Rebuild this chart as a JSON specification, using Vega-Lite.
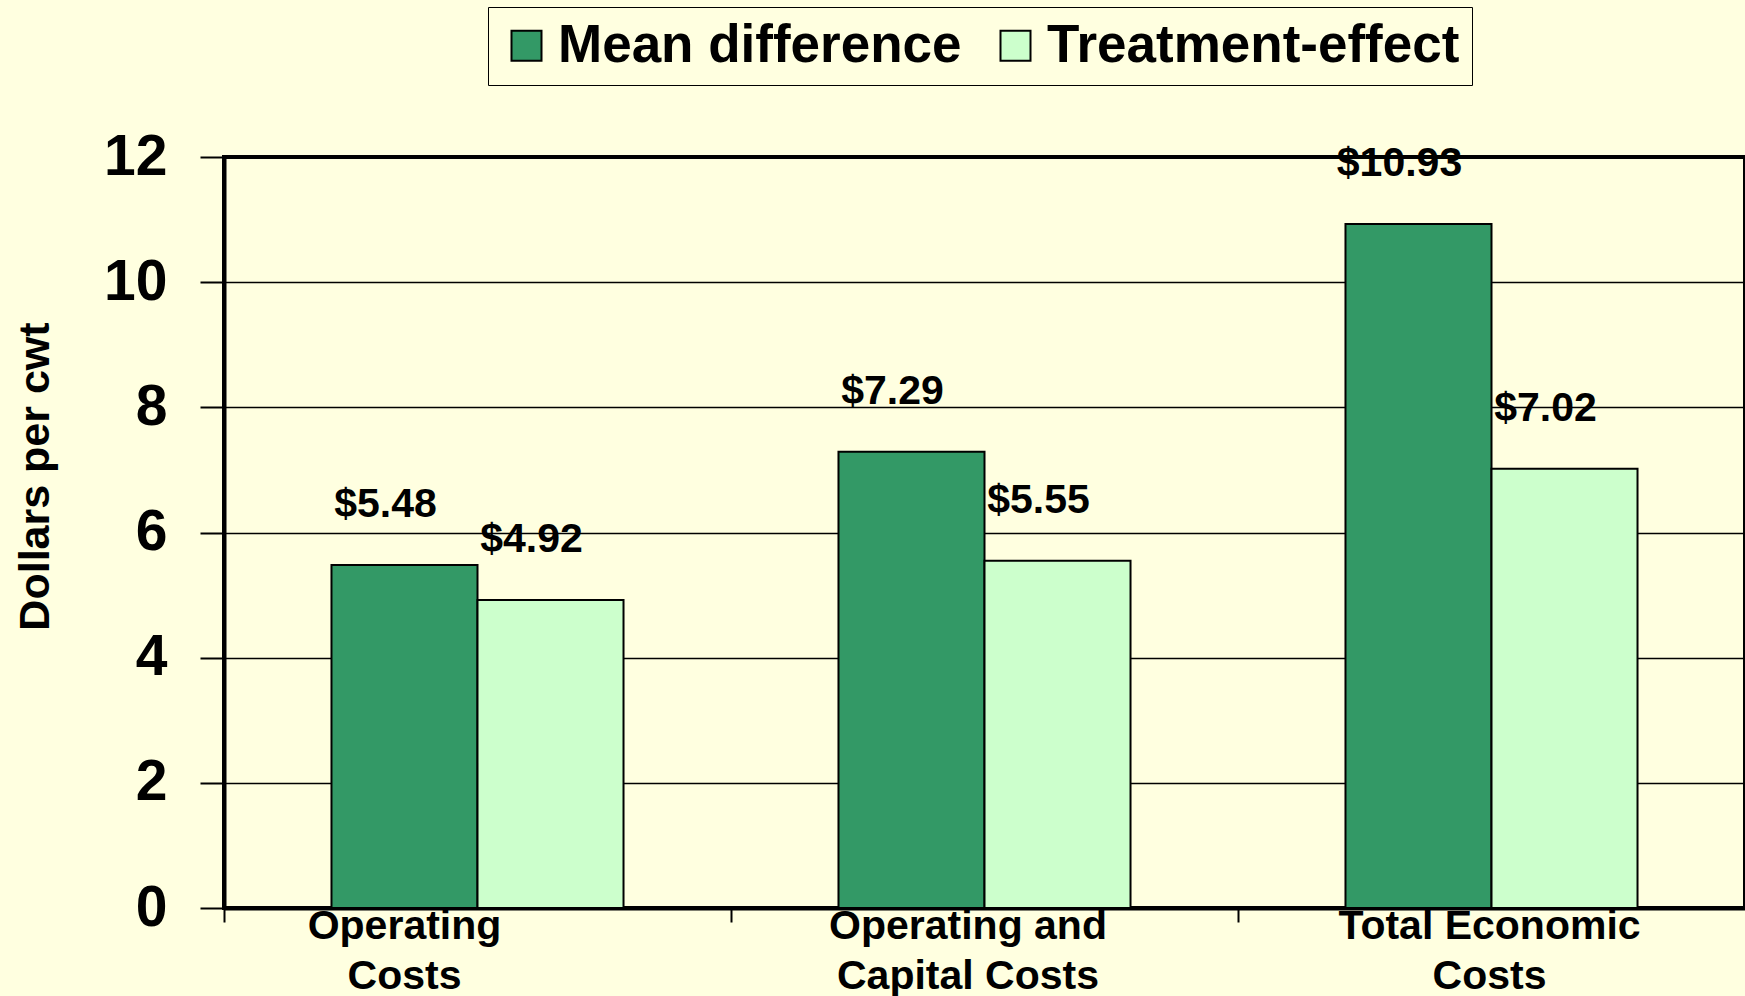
{
  "$schema": "https://vega.github.io/schema/vega-lite/v6.json",
  "width": 1521,
  "height": 751,
  "autosize": {"type": "none"},
  "padding": {"left": 224, "top": 157, "right": 0, "bottom": 88},
  "background": "#FFFFE0",
  "config": {
    "view": {"stroke": "black", "strokeWidth": 4, "fill": "#FFFFE0"},
    "font": "Liberation Sans",
    "axis": {"labelFont": "Liberation Sans", "titleFont": "Liberation Sans", "labelFontWeight": "bold", "titleFontWeight": "bold", "labelColor": "black", "titleColor": "black"}
  },
  "data": {
    "values": [
      {"category": "Operating Costs", "series": "Mean difference", "value": 5.48},
      {"category": "Operating Costs", "series": "Treatment-effect", "value": 4.92},
      {"category": "Operating and Capital Costs", "series": "Mean difference", "value": 7.29},
      {"category": "Operating and Capital Costs", "series": "Treatment-effect", "value": 5.55},
      {"category": "Total Economic Costs", "series": "Mean difference", "value": 10.93},
      {"category": "Total Economic Costs", "series": "Treatment-effect", "value": 7.02}
    ]
  },
  "encoding": {
    "x": {
      "field": "category",
      "type": "nominal",
      "sort": ["Operating Costs", "Operating and Capital Costs", "Total Economic Costs"],
      "scale": {"paddingInner": 0.424, "paddingOuter": 0.212},
      "axis": {
        "title": null,
        "labelAngle": 0,
        "labelFontSize": 41,
        "labelLineHeight": 50,
        "labelBaseline": "top",
        "labelPadding": -16,
        "labelLimit": 600,
        "labelExpr": "datum.value === 'Operating Costs' ? ['Operating', 'Costs'] : datum.value === 'Operating and Capital Costs' ? ['Operating and', 'Capital Costs'] : ['Total Economic', 'Costs']",
        "tickOffset": -253.5,
        "labelOffset": {"condition": [{"test": "datum.value === 'Operating Costs'", "value": 180}, {"test": "datum.value === 'Operating and Capital Costs'", "value": 236.5}], "value": 251},
        "tickSize": 14,
        "tickWidth": 2,
        "tickColor": "black",
        "domainColor": "black",
        "domainWidth": 4,
        "grid": false
      }
    },
    "xOffset": {"field": "series", "type": "nominal", "sort": ["Mean difference", "Treatment-effect"]},
    "y": {
      "field": "value",
      "type": "quantitative",
      "scale": {"domain": [0, 12], "nice": false},
      "axis": {
        "values": [0, 2, 4, 6, 8, 10, 12],
        "title": "Dollars per cwt",
        "titleFontSize": 43,
        "titleAngle": -90,
        "titleAlign": "center",
        "titleBaseline": "alphabetic",
        "titleX": -176,
        "titleY": 319,
        "labelFontSize": 57,
        "labelPadding": 33,
        "labelBaseline": "middle",
        "tickSize": 24,
        "tickWidth": 2,
        "tickColor": "black",
        "domainColor": "black",
        "domainWidth": 4,
        "grid": true,
        "gridColor": "black",
        "gridWidth": 1.5,
        "gridOpacity": 1
      }
    }
  },
  "layer": [
    {
      "mark": {"type": "bar", "stroke": "black", "strokeWidth": 2},
      "encoding": {
        "color": {
          "field": "series",
          "type": "nominal",
          "scale": {"domain": ["Mean difference", "Treatment-effect"], "range": ["#339966", "#CCFFCC"]},
          "legend": {
            "title": null,
            "orient": "none",
            "legendX": 264,
            "legendY": -150,
            "direction": "horizontal",
            "fillColor": "#FFFFE0",
            "strokeColor": "black",
            "padding": 12,
            "symbolType": "square",
            "symbolSize": 900,
            "symbolStrokeColor": "black",
            "symbolStrokeWidth": 2,
            "symbolOpacity": 1,
            "labelFont": "Liberation Sans",
            "labelFontWeight": "bold",
            "labelFontSize": 53,
            "labelColor": "black",
            "labelOffset": 5,
            "labelLimit": 600,
            "columnPadding": 27
          }
        }
      }
    },
    {
      "mark": {"type": "text", "font": "Liberation Sans", "fontWeight": "bold", "fontSize": 41, "align": "center", "baseline": "alphabetic", "dx": -19, "dy": -48, "color": "black"},
      "encoding": {
        "text": {"field": "value", "type": "quantitative", "format": "$.2f"}
      }
    }
  ]
}
